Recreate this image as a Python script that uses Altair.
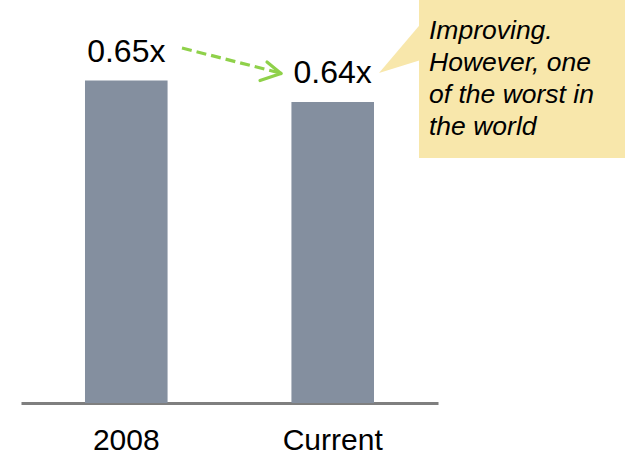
import altair as alt
import pandas as pd

# Bar values (multiple, "x")
categories = ["2008", "Current"]
values = [0.65, 0.64]

# Callout text
note_lines = ["Improving.", "However, one", "of the worst in", "the world"]

FONT = "Liberation Sans"
BAR_COLOR = "#848F9F"
NOTE_FILL = "#F8E7AB"
ARROW_GREEN = "#8FD14A"

df = pd.DataFrame({"cat": categories, "value": values})

x_enc = alt.X(
    "cat:N",
    sort=None,
    title=None,
    scale=alt.Scale(range=[21, 438], paddingInner=0.6, paddingOuter=0.31),
    axis=alt.Axis(
        labelAngle=0,
        labelFont=FONT,
        labelFontSize=30,
        labelColor="#000000",
        labelBaseline="alphabetic",
        labelPadding=46,
        ticks=False,
        tickSize=0,
        domainColor="#7F7F7F",
        domainWidth=3,
        grid=False,
    ),
)
y_scale = alt.Scale(domain=[0.5, 0.6875], zero=False, nice=False)

bars = (
    alt.Chart(df)
    .mark_bar(color=BAR_COLOR)
    .encode(
        x=x_enc,
        y=alt.Y("value:Q", scale=y_scale, axis=None),
        y2=alt.datum(0.5),
    )
)

labels = (
    alt.Chart(df)
    .transform_calculate(label="format(datum.value, '.2f') + 'x'")
    .mark_text(font=FONT, fontSize=32, baseline="alphabetic", align="center", dy=-19, color="#000000")
    .encode(
        x=alt.X("cat:N", sort=None),
        y=alt.Y("value:Q", scale=y_scale),
        text="label:N",
    )
)

one = alt.Data(values=[{}])

# Dashed green arrow between the two labels
arrow_shaft = alt.Chart(one).mark_rule(
    color=ARROW_GREEN, strokeWidth=3.2, strokeDash=[10, 5]
).encode(x=alt.value(182), y=alt.value(48), x2=alt.value(278), y2=alt.value(72.5))
arrow_head_top = alt.Chart(one).mark_rule(color=ARROW_GREEN, strokeWidth=3.2, strokeCap="round").encode(
    x=alt.value(267), y=alt.value(62), x2=alt.value(281), y2=alt.value(73.5)
)
arrow_head_bottom = alt.Chart(one).mark_rule(color=ARROW_GREEN, strokeWidth=3.2, strokeCap="round").encode(
    x=alt.value(260), y=alt.value(80.5), x2=alt.value(281), y2=alt.value(73.5)
)

# Callout box with pointer
note_box = alt.Chart(one).mark_rect(color=NOTE_FILL).encode(
    x=alt.value(419), x2=alt.value(625), y=alt.value(0), y2=alt.value(158)
)
pointer = alt.Chart(one).mark_point(
    shape="M -0.42 0.54 L 0.48 -0.52 L 0.48 0.26 Z",
    filled=True,
    color=NOTE_FILL,
    opacity=1,
    size=10000,
    strokeWidth=0,
).encode(x=alt.value(400), y=alt.value(46))
note_text = alt.Chart(one).mark_text(
    text=note_lines,
    font=FONT,
    fontSize=26.5,
    fontStyle="italic",
    lineHeight=32,
    align="left",
    baseline="alphabetic",
    color="#000000",
).encode(x=alt.value(429), y=alt.value(39))

chart = (
    alt.layer(bars, labels, arrow_shaft, arrow_head_top, arrow_head_bottom, note_box, pointer, note_text)
    .properties(
        width=625,
        height=403,
        padding={"left": 0, "top": 0, "right": 0, "bottom": 52},
        autosize=alt.AutoSizeParams(type="none"),
        background="#FFFFFF",
    )
    .configure_view(stroke=None)
)

chart.save("out.html", embed_options={"renderer": "svg", "actions": False})
